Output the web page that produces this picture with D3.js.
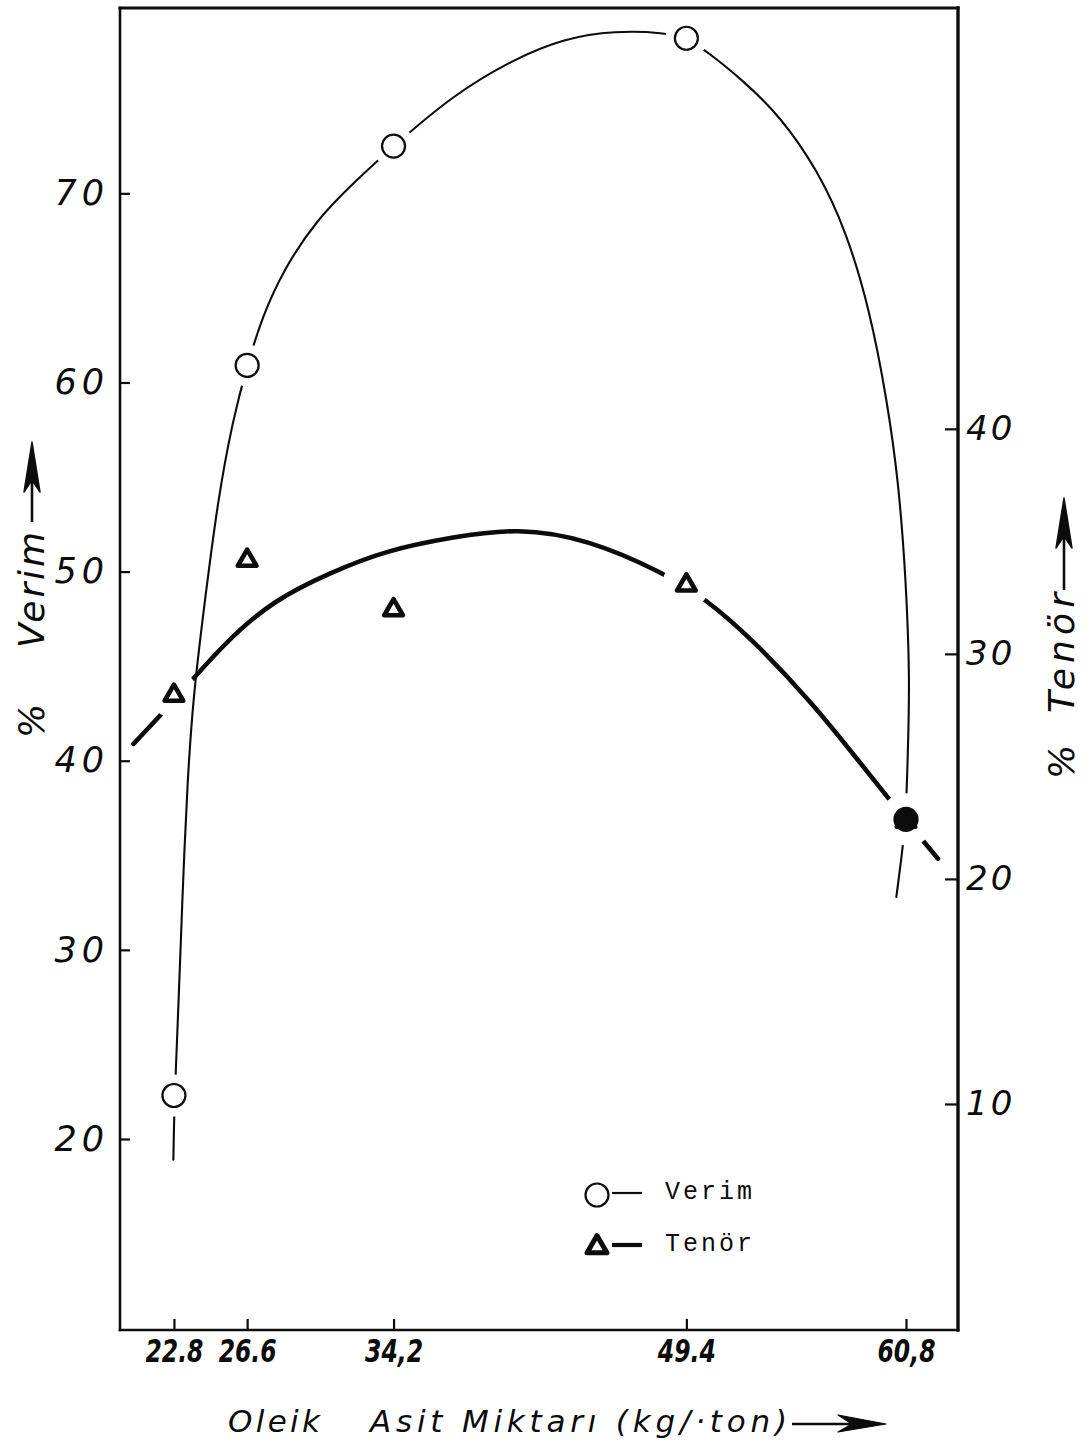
<!DOCTYPE html>
<html>
<head>
<meta charset="utf-8">
<script src="https://cdn.jsdelivr.net/npm/d3@7"></script>
<style>
  html, body { margin: 0; padding: 0; background: #fff; }
  svg { display: block; }
</style>
</head>
<body>
<svg id="chart" width="1089" height="1449"></svg>
<script>
// Oleic acid dosage tested (kg/ton) and the labels lettered under each tick
const oleikAsit = [22.8, 26.6, 34.2, 49.4, 60.8];
const tickLabels = ["22.8", "26.6", "34,2", "49.4", "60,8"];

// Measured recovery (% Verim, left axis) and grade (% Tenör, right axis)
const verim = [22.3, 60.9, 72.5, 78.2, 36.9];
const tenor = [28.2, 34.2, 32.0, 33.1, 22.6];

// Hand-fitted trend curves, sampled along the drawn lines: [kg/ton, %]
const verimCurve = [
  [22.77, 18.9], [22.83, 22.3], [23.05, 27.35], [23.23, 32.6], [23.50, 39.0],
  [23.82, 43.6], [24.41, 48.5], [25.08, 53.8], [25.85, 58.0], [26.6, 60.9],
  [27.39, 63.5], [28.51, 66.0], [30.20, 68.6], [32.17, 70.6], [34.2, 72.5],
  [37.29, 75.2], [40.44, 77.1], [43.06, 78.2], [45.68, 78.6], [48.30, 78.5],
  [49.4, 78.2], [50.48, 77.5], [52.30, 76.0], [54.26, 74.1], [56.23, 71.2],
  [57.70, 68.0], [58.93, 63.8], [59.81, 59.1], [60.41, 54.8], [60.8, 49.6],
  [61.0, 44.3], [60.9, 40.6], [60.8, 36.9], [60.55, 34.75], [60.30, 32.8]
];
const tenorCurve = [
  [20.70, 26.0], [22.8, 27.9], [25.42, 30.5], [27.99, 32.4], [30.89, 33.6],
  [33.79, 34.6], [37.34, 35.2], [40.63, 35.6], [44.30, 35.1], [48.22, 33.6],
  [50.39, 32.45], [52.76, 30.7], [55.96, 27.8], [58.38, 25.2], [60.02, 23.45],
  [60.8, 22.6], [62.46, 20.9]
];

// Axis tick values
const verimTicks = [20, 30, 40, 50, 60, 70];
const tenorTicks = [10, 20, 30, 40];

// Legend entries
const legendItems = ["Verim", "Tenör"];

const W = 1089, H = 1449;
const X0 = 120, X1 = 958, Y0 = 8, Y1 = 1330;
const ink = "#0c0c0c";

const svg = d3.select("#chart");
svg.append("rect").attr("width", W).attr("height", H).attr("fill", "#fff");

const x = d3.scaleLinear().domain([20, 63.5]).range([X0, X1]);
const yL = d3.scaleLinear().domain([9.9, 79.8]).range([Y1, Y0]);
const yR = d3.scaleLinear().domain([0, 58.7]).range([Y1 - 1, Y0]);

const handFont = "'DejaVu Sans', 'Noto Sans', sans-serif";

// ---- Frame ----
const frame = svg.append("g").attr("stroke", ink).attr("stroke-linecap", "square");
frame.append("line").attr("x1", X0).attr("y1", Y0).attr("x2", X0).attr("y2", Y1).attr("stroke-width", 2.6);
frame.append("line").attr("x1", X0).attr("y1", Y1).attr("x2", X1).attr("y2", Y1).attr("stroke-width", 2.6);
frame.append("line").attr("x1", X0).attr("y1", Y0).attr("x2", X1).attr("y2", Y0).attr("stroke-width", 3);
frame.append("line").attr("x1", X1).attr("y1", Y0).attr("x2", X1).attr("y2", Y1).attr("stroke-width", 3.4);

// ---- Axes (ticks point into the plot) ----
const gL = svg.append("g").attr("transform", `translate(${X0},0)`)
  .call(d3.axisLeft(yL).tickValues(verimTicks).tickSizeInner(-10).tickSizeOuter(0).tickPadding(11));
const gR = svg.append("g").attr("transform", `translate(${X1},0)`)
  .call(d3.axisRight(yR).tickValues(tenorTicks).tickSizeInner(-13).tickSizeOuter(0).tickPadding(8));
const gB = svg.append("g").attr("transform", `translate(0,${Y1})`)
  .call(d3.axisBottom(x).tickValues(oleikAsit).tickFormat((d, i) => tickLabels[i])
    .tickSizeInner(-11).tickSizeOuter(0).tickPadding(9));

[gL, gR, gB].forEach(g => {
  g.select(".domain").remove();
  g.selectAll(".tick line").attr("stroke", ink).attr("stroke-width", 2.2);
  g.selectAll(".tick text").attr("fill", ink).attr("font-family", handFont)
    .attr("font-style", "italic");
});
gL.selectAll(".tick text").attr("font-size", 35).attr("letter-spacing", 5);
gR.selectAll(".tick text").attr("font-size", 34).attr("letter-spacing", 3);
gB.selectAll(".tick text").attr("font-size", 32).attr("font-weight", "bold")
  .attr("textLength", 58).attr("lengthAdjust", "spacingAndGlyphs");

// ---- Masks leaving a small gap in each curve around its markers ----
const overlap = oleikAsit.map((d, i) => Math.abs(yL(verim[i]) - yR(tenor[i])) < 12);
const defs = svg.append("defs");
function gapMask(id, yScale, values, r, rBoth) {
  const m = defs.append("mask").attr("id", id).attr("maskUnits", "userSpaceOnUse")
    .attr("x", 0).attr("y", 0).attr("width", W).attr("height", H);
  m.append("rect").attr("width", W).attr("height", H).attr("fill", "#fff");
  m.selectAll("circle").data(values).join("circle")
    .attr("cx", (d, i) => x(oleikAsit[i]))
    .attr("cy", d => yScale(d))
    .attr("r", (d, i) => overlap[i] ? rBoth : r)
    .attr("fill", "#000");
}
gapMask("gap-verim", yL, verim, 21, 26);
gapMask("gap-tenor", yR, tenor, 24, 27);

// ---- Trend curves (smooth spline through the sampled points) ----
const verimLine = d3.line().x(d => x(d[0])).y(d => yL(d[1])).curve(d3.curveBasis);
const tenorLine = d3.line().x(d => x(d[0])).y(d => yR(d[1])).curve(d3.curveBasis);

svg.append("path").datum(verimCurve).attr("d", verimLine)
  .attr("fill", "none").attr("stroke", ink).attr("stroke-width", 2.1)
  .attr("stroke-linecap", "round").attr("mask", "url(#gap-verim)");
svg.append("path").datum(tenorCurve).attr("d", tenorLine)
  .attr("fill", "none").attr("stroke", ink).attr("stroke-width", 4.6)
  .attr("stroke-linecap", "round").attr("mask", "url(#gap-tenor)");

// ---- Markers ----
const tri = d3.symbol(d3.symbolTriangle, 150);
svg.append("g").selectAll("circle").data(verim).join("circle")
  .attr("cx", (d, i) => x(oleikAsit[i]))
  .attr("cy", d => yL(d))
  .attr("r", 11.5)
  .attr("fill", (d, i) => overlap[i] ? ink : "#fff")
  .attr("stroke", ink).attr("stroke-width", 2.2);
svg.append("g").selectAll("path").data(tenor).join("path")
  .attr("d", tri)
  .attr("transform", (d, i) => `translate(${x(oleikAsit[i])},${yR(d) + 1})`)
  .attr("fill", (d, i) => overlap[i] ? ink : "#fff")
  .attr("stroke", ink).attr("stroke-width", 4.6).attr("stroke-linejoin", "round");

// ---- Axis titles ----
function vTitle(cx, yPct, yWord, word, wordLen) {
  const g = svg.append("g").attr("fill", ink).attr("font-family", handFont)
    .attr("font-style", "italic").attr("font-size", 36);
  g.append("text").attr("transform", `translate(${cx},${yPct}) rotate(-90)`).text("%");
  g.append("text").attr("transform", `translate(${cx},${yWord}) rotate(-90)`)
    .attr("textLength", wordLen).attr("lengthAdjust", "spacing").text(word);
}
function upArrow(ax, yBottom, yTip) {
  svg.append("line").attr("x1", ax).attr("x2", ax).attr("y1", yBottom).attr("y2", yTip + 20)
    .attr("stroke", ink).attr("stroke-width", 2.6);
  svg.append("path")
    .attr("d", `M${ax},${yTip} L${ax - 8},${yTip + 50} L${ax},${yTip + 38} L${ax + 8},${yTip + 50} Z`)
    .attr("fill", ink).attr("stroke", ink).attr("stroke-width", 1.5).attr("stroke-linejoin", "round");
}
vTitle(44, 738, 648, "Verim", 116);
upArrow(32, 522, 442);
vTitle(1074, 779, 713, "Tenör", 120);
upArrow(1064, 590, 498);

const xt = svg.append("g").attr("fill", ink).attr("font-family", handFont)
  .attr("font-style", "italic").attr("font-size", 31);
xt.append("text").attr("x", 228).attr("y", 1432)
  .attr("textLength", 92).attr("lengthAdjust", "spacing").text("Oleik");
xt.append("text").attr("x", 370).attr("y", 1432)
  .attr("textLength", 417).attr("lengthAdjust", "spacing").text("Asit Miktarı (kg/·ton)");
svg.append("line").attr("x1", 792).attr("x2", 860).attr("y1", 1424).attr("y2", 1424)
  .attr("stroke", ink).attr("stroke-width", 2.6);
svg.append("path").attr("d", "M886,1424 L838,1415 L852,1424 L838,1432 Z")
  .attr("fill", ink).attr("stroke", ink).attr("stroke-width", 1.2).attr("stroke-linejoin", "round");

// ---- Legend ----
const lg = svg.append("g").attr("transform", "translate(597,1195)");
const rows = lg.selectAll("g").data(legendItems).join("g")
  .attr("transform", (d, i) => `translate(0,${i * 52})`);
rows.append("line").attr("x1", 15).attr("x2", 45).attr("y1", -2).attr("y2", -2)
  .attr("stroke", ink).attr("stroke-width", (d, i) => i === 0 ? 2.2 : 4.2);
rows.filter((d, i) => i === 0).append("circle").attr("r", 11.5)
  .attr("fill", "#fff").attr("stroke", ink).attr("stroke-width", 2.2);
rows.filter((d, i) => i === 1).append("path").attr("d", d3.symbol(d3.symbolTriangle, 170))
  .attr("fill", "#fff").attr("stroke", ink).attr("stroke-width", 5).attr("stroke-linejoin", "round");
rows.append("text").attr("x", 68).attr("y", 4)
  .attr("font-family", "'Courier New', 'Liberation Mono', monospace")
  .attr("font-size", 25).attr("letter-spacing", 3).attr("fill", ink)
  .text(d => d);
</script>
</body>
</html>
